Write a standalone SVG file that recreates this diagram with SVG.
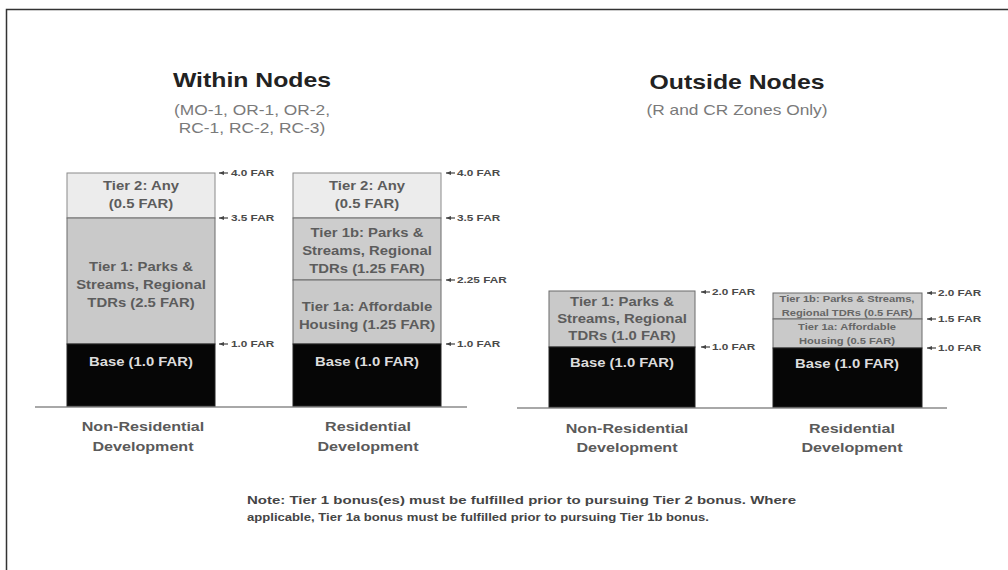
<svg xmlns="http://www.w3.org/2000/svg" width="1008" height="570" viewBox="0 0 1008 570">
<style>
text{font-family:"Liberation Sans",Arial,sans-serif}
.title{font-size:20px;font-weight:bold;fill:#222}
.sub{font-size:14px;fill:#7a7a7a}
.seg{font-size:12px;font-weight:bold;fill:#5c5c5c}
.small{font-size:9px;font-weight:bold;fill:#666}
.basetxt{font-size:12px;font-weight:bold;fill:#dcdcdc}
.far{font-size:9.5px;font-weight:bold;fill:#4a4a4a}
.cat{font-size:13px;font-weight:bold;fill:#5a5a5a}
.note{font-size:11px;font-weight:bold;fill:#454545}
.t2{fill:#ececec;stroke:#8a8a8a;stroke-width:1}
.t1{fill:#c9c9c9;stroke:#6a6a6a;stroke-width:1}
.t1b{fill:#cdcdcd;stroke:#6a6a6a;stroke-width:1}
.base{fill:#060606;stroke:#222;stroke-width:1}
.ground{stroke:#a8a8a8;stroke-width:2}
.lead{stroke:#444;stroke-width:1.2;marker-end:url(#ah)}
</style>
<defs>
<marker id="ah" viewBox="0 0 6 6" refX="6" refY="3" markerWidth="5" markerHeight="4" markerUnits="userSpaceOnUse" orient="auto" preserveAspectRatio="none">
<path d="M0,0 L6,3 L0,6 z" fill="#444"/>
</marker>
</defs>
<rect width="1008" height="570" fill="#fff"/>
<g id="frame">
<path d="M6.5,570 V9.5 H1008" fill="none" stroke="#333" stroke-width="1.5"/>
</g>

<g id="title-within">
<text class="title" transform="matrix(1.24 0 0 1 252 0)" x="0" y="87" text-anchor="middle">Within Nodes</text>
<text class="sub" transform="matrix(1.24 0 0 1 252 0)" x="0" y="115" text-anchor="middle">(MO-1, OR-1, OR-2,</text>
<text class="sub" transform="matrix(1.24 0 0 1 252 0)" x="0" y="133" text-anchor="middle">RC-1, RC-2, RC-3)</text>
</g>
<g id="title-outside">
<text class="title" transform="matrix(1.24 0 0 1 737 0)" x="0" y="89" text-anchor="middle">Outside Nodes</text>
<text class="sub" transform="matrix(1.24 0 0 1 737 0)" x="0" y="115" text-anchor="middle">(R and CR Zones Only)</text>
</g>

<g id="ground">
<line class="ground" x1="35" y1="407" x2="467" y2="407"/>
<line class="ground" x1="517" y1="408" x2="947" y2="408"/>
</g>

<g id="within-nonres">
<rect class="t2" x="67" y="173" width="148" height="45"/>
<rect class="t1" x="67" y="218" width="148" height="126"/>
<rect class="base" x="67" y="344" width="148" height="62"/>
<text class="seg" transform="matrix(1.24 0 0 1 141 0)" x="0" y="190" text-anchor="middle">Tier 2: Any</text>
<text class="seg" transform="matrix(1.24 0 0 1 141 0)" x="0" y="208" text-anchor="middle">(0.5 FAR)</text>
<text class="seg" transform="matrix(1.24 0 0 1 141 0)" x="0" y="271" text-anchor="middle">Tier 1: Parks &amp;</text>
<text class="seg" transform="matrix(1.24 0 0 1 141 0)" x="0" y="289" text-anchor="middle">Streams, Regional</text>
<text class="seg" transform="matrix(1.24 0 0 1 141 0)" x="0" y="307" text-anchor="middle">TDRs (2.5 FAR)</text>
<text class="basetxt" transform="matrix(1.24 0 0 1 141 0)" x="0" y="366" text-anchor="middle">Base (1.0 FAR)</text>
<text class="cat" transform="matrix(1.24 0 0 1 143 0)" x="0" y="431" text-anchor="middle">Non-Residential</text>
<text class="cat" transform="matrix(1.24 0 0 1 143 0)" x="0" y="451" text-anchor="middle">Development</text>
</g>

<g id="within-res">
<rect class="t2" x="293" y="173" width="148" height="45"/>
<rect class="t1b" x="293" y="218" width="148" height="62"/>
<rect class="t1" x="293" y="280" width="148" height="64"/>
<rect class="base" x="293" y="344" width="148" height="62"/>
<text class="seg" transform="matrix(1.24 0 0 1 367 0)" x="0" y="190" text-anchor="middle">Tier 2: Any</text>
<text class="seg" transform="matrix(1.24 0 0 1 367 0)" x="0" y="208" text-anchor="middle">(0.5 FAR)</text>
<text class="seg" transform="matrix(1.24 0 0 1 367 0)" x="0" y="237" text-anchor="middle">Tier 1b: Parks &amp;</text>
<text class="seg" transform="matrix(1.24 0 0 1 367 0)" x="0" y="255" text-anchor="middle">Streams, Regional</text>
<text class="seg" transform="matrix(1.24 0 0 1 367 0)" x="0" y="273" text-anchor="middle">TDRs (1.25 FAR)</text>
<text class="seg" transform="matrix(1.24 0 0 1 367 0)" x="0" y="311" text-anchor="middle">Tier 1a: Affordable</text>
<text class="seg" transform="matrix(1.24 0 0 1 367 0)" x="0" y="329" text-anchor="middle">Housing (1.25 FAR)</text>
<text class="basetxt" transform="matrix(1.24 0 0 1 367 0)" x="0" y="366" text-anchor="middle">Base (1.0 FAR)</text>
<text class="cat" transform="matrix(1.24 0 0 1 368 0)" x="0" y="431" text-anchor="middle">Residential</text>
<text class="cat" transform="matrix(1.24 0 0 1 368 0)" x="0" y="451" text-anchor="middle">Development</text>
</g>

<g id="outside-nonres">
<rect class="t1" x="549" y="291" width="146" height="56"/>
<rect class="base" x="549" y="347" width="146" height="60"/>
<text class="seg" transform="matrix(1.24 0 0 1 622 0)" x="0" y="306" text-anchor="middle">Tier 1: Parks &amp;</text>
<text class="seg" transform="matrix(1.24 0 0 1 622 0)" x="0" y="323" text-anchor="middle">Streams, Regional</text>
<text class="seg" transform="matrix(1.24 0 0 1 622 0)" x="0" y="340" text-anchor="middle">TDRs (1.0 FAR)</text>
<text class="basetxt" transform="matrix(1.24 0 0 1 622 0)" x="0" y="367" text-anchor="middle">Base (1.0 FAR)</text>
<text class="cat" transform="matrix(1.24 0 0 1 627 0)" x="0" y="433" text-anchor="middle">Non-Residential</text>
<text class="cat" transform="matrix(1.24 0 0 1 627 0)" x="0" y="452" text-anchor="middle">Development</text>
</g>

<g id="outside-res">
<rect class="t1b" x="773" y="293" width="149" height="26"/>
<rect class="t1" x="773" y="319" width="149" height="29"/>
<rect class="base" x="773" y="348" width="149" height="59"/>
<text class="small" transform="matrix(1.24 0 0 1 847 0)" x="0" y="302" text-anchor="middle">Tier 1b: Parks &amp; Streams,</text>
<text class="small" transform="matrix(1.24 0 0 1 847 0)" x="0" y="316" text-anchor="middle">Regional TDRs (0.5 FAR)</text>
<text class="small" transform="matrix(1.24 0 0 1 847 0)" x="0" y="330" text-anchor="middle">Tier 1a: Affordable</text>
<text class="small" transform="matrix(1.24 0 0 1 847 0)" x="0" y="344" text-anchor="middle">Housing (0.5 FAR)</text>
<text class="basetxt" transform="matrix(1.24 0 0 1 847 0)" x="0" y="368" text-anchor="middle">Base (1.0 FAR)</text>
<text class="cat" transform="matrix(1.24 0 0 1 852 0)" x="0" y="433" text-anchor="middle">Residential</text>
<text class="cat" transform="matrix(1.24 0 0 1 852 0)" x="0" y="452" text-anchor="middle">Development</text>
</g>

<g id="connectors">
<line class="lead" x1="228" y1="173" x2="219" y2="173"/>
<line class="lead" x1="228" y1="218" x2="219" y2="218"/>
<line class="lead" x1="228" y1="344" x2="219" y2="344"/>
<line class="lead" x1="455" y1="173" x2="446" y2="173"/>
<line class="lead" x1="455" y1="218" x2="446" y2="218"/>
<line class="lead" x1="455" y1="280" x2="446" y2="280"/>
<line class="lead" x1="455" y1="344" x2="446" y2="344"/>
<line class="lead" x1="710" y1="292" x2="701" y2="292"/>
<line class="lead" x1="710" y1="347" x2="701" y2="347"/>
<line class="lead" x1="936" y1="293" x2="927" y2="293"/>
<line class="lead" x1="936" y1="319" x2="927" y2="319"/>
<line class="lead" x1="936" y1="348" x2="927" y2="348"/>
</g>

<g id="far-labels">
<text class="far" transform="matrix(1.24 0 0 1 231 0)" x="0" y="176.5">4.0 FAR</text>
<text class="far" transform="matrix(1.24 0 0 1 231 0)" x="0" y="221.5">3.5 FAR</text>
<text class="far" transform="matrix(1.24 0 0 1 231 0)" x="0" y="347.5">1.0 FAR</text>
<text class="far" transform="matrix(1.24 0 0 1 457 0)" x="0" y="176.5">4.0 FAR</text>
<text class="far" transform="matrix(1.24 0 0 1 457 0)" x="0" y="221.5">3.5 FAR</text>
<text class="far" transform="matrix(1.24 0 0 1 457 0)" x="0" y="283.5">2.25 FAR</text>
<text class="far" transform="matrix(1.24 0 0 1 457 0)" x="0" y="347.5">1.0 FAR</text>
<text class="far" transform="matrix(1.24 0 0 1 712 0)" x="0" y="295.5">2.0 FAR</text>
<text class="far" transform="matrix(1.24 0 0 1 712 0)" x="0" y="350.5">1.0 FAR</text>
<text class="far" transform="matrix(1.24 0 0 1 938 0)" x="0" y="296.5">2.0 FAR</text>
<text class="far" transform="matrix(1.24 0 0 1 938 0)" x="0" y="322.5">1.5 FAR</text>
<text class="far" transform="matrix(1.24 0 0 1 938 0)" x="0" y="351.5">1.0 FAR</text>
</g>

<g id="note">
<text class="note" x="247" y="504" textLength="549" lengthAdjust="spacingAndGlyphs">Note: Tier 1 bonus(es) must be fulfilled prior to pursuing Tier 2 bonus. Where</text>
<text class="note" x="247" y="521" textLength="462" lengthAdjust="spacingAndGlyphs">applicable, Tier 1a bonus must be fulfilled prior to pursuing Tier 1b bonus.</text>
</g>
</svg>
